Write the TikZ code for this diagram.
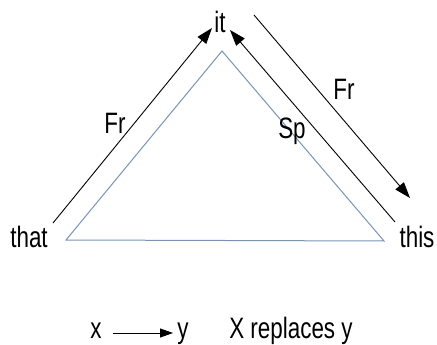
\documentclass[tikz,border=0pt]{standalone}
\usepackage{fontspec}
\setmainfont{Liberation Sans}[FakeStretch=0.76]
\usetikzlibrary{arrows.meta}
\definecolor{triblue}{HTML}{7A93B2}
\begin{document}
\begin{tikzpicture}[x=1pt,y=-1pt,
  lbl/.style={inner sep=0pt,anchor=base,font=\fontsize{29.5}{31}\selectfont},
  rel/.style={draw=black,line width=0.9pt,-{Triangle[length=16pt,width=11pt]}},
  tri/.style={draw=triblue,line width=1pt}]
\useasboundingbox (0,0) rectangle (437,345);
% triangle
\coordinate (A) at (222,51);
\coordinate (L) at (66,240);
\coordinate (R) at (384,241);
\draw[tri] (A) -- (L) -- (R) -- cycle;
% labels
\node[lbl] (it) at (220,33) {it};
\node[lbl] (that) at (29,247) {that};
\node[lbl] (this) at (417,247) {this};
\node[lbl] (fr1) at (115,133) {Fr};
\node[lbl] (fr2) at (344,100) {Fr};
\node[lbl] (sp) at (292,139) {Sp};
% arrows
\coordinate (a1s) at (53,223);
\coordinate (a1e) at (212,28);
\coordinate (a2s) at (395,222);
\coordinate (a2e) at (230,30);
\coordinate (a3s) at (254,15);
\coordinate (a3e) at (410,198);
\draw[rel] (a1s) -- (a1e);
\draw[rel] (a2s) -- (a2e);
\draw[rel] (a3s) -- (a3e);
% legend
\node[lbl] (lx) at (96,338) {x};
\node[lbl] (ly) at (183,338) {y};
\node[lbl] (lt) at (291,338) {X replaces y};
\coordinate (ls) at (113,333);
\coordinate (le) at (173,333);
\draw[draw=black,line width=0.9pt,-{Triangle[length=13pt,width=9pt]}] (ls) -- (le);
\end{tikzpicture}
\end{document}
